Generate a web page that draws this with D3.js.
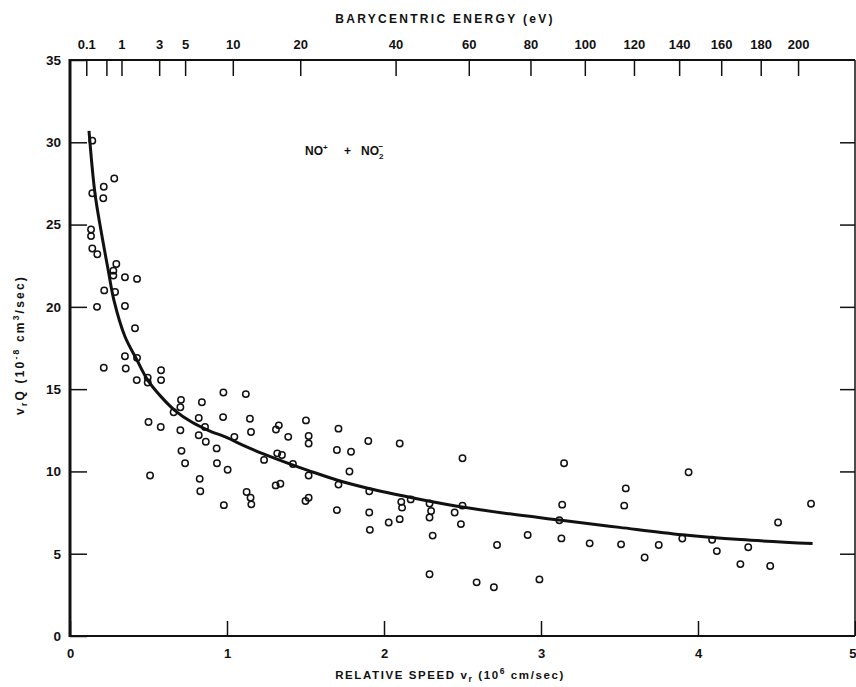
<!DOCTYPE html>
<html>
<head>
<meta charset="utf-8">
<script src="https://cdn.jsdelivr.net/npm/d3@7"></script>
<style>
  body { margin: 0; background: #fff; }
  svg text { font-family: "Liberation Sans", Arial, sans-serif; font-weight: bold; fill: #111; }
</style>
</head>
<body>
<svg id="chart" width="856" height="687"></svg>
<script>
// measured points: relative speed (10^6 cm/sec) and rate (10^-8 cm^3/sec)
let speed = [0.142, 0.282, 0.215, 0.142, 0.212, 0.134, 0.134, 0.142, 0.174, 0.295,
  0.276, 0.276, 0.35, 0.427, 0.218, 0.287, 0.172, 0.35, 0.414, 0.35,
  0.427, 0.215, 0.355, 0.58, 0.425, 0.495, 0.495, 0.58, 0.977, 1.12,
  0.707, 0.84, 0.703, 0.66, 0.82, 0.975, 1.146, 0.5, 0.578, 0.86,
  0.703, 0.82, 1.047, 1.153, 0.865, 0.934, 0.71, 0.733, 0.936, 1.004,
  0.51, 0.826, 1.503, 1.312, 1.33, 1.71, 1.39, 1.52, 1.52, 1.9,
  2.1, 1.236, 1.32, 1.35, 1.7, 1.79, 1.42, 1.52, 1.78, 0.83,
  0.98, 1.125, 1.15, 1.155, 1.31, 1.34, 1.5, 1.52, 1.71, 1.7,
  1.906, 1.906, 1.91, 2.03, 2.1, 2.11, 2.115, 2.17, 2.29, 2.3,
  2.29, 2.31, 2.29, 2.45, 2.5, 3.147, 3.94, 3.54, 3.53, 3.135,
  2.5, 2.49, 3.117, 4.72, 4.51, 2.915, 3.13, 3.31, 3.51, 3.75,
  3.9, 4.09, 4.12, 4.32, 4.27, 4.46, 2.72, 3.66, 2.59, 2.7, 2.99];
let rate = [30.1, 27.8, 27.3, 26.9, 26.6, 24.7, 24.3, 23.55, 23.2, 22.6,
  22.2, 21.9, 21.8, 21.7, 21.0, 20.9, 20.0, 20.05, 18.7, 17.0,
  16.9, 16.3, 16.25, 16.15, 15.55, 15.7, 15.4, 15.55, 14.8, 14.7,
  14.35, 14.2, 13.9, 13.6, 13.25, 13.3, 13.2, 13.0, 12.7, 12.7,
  12.5, 12.2, 12.1, 12.4, 11.8, 11.4, 11.25, 10.5, 10.5, 10.1,
  9.75, 9.55, 13.1, 12.55, 12.8, 12.6, 12.1, 12.15, 11.7, 11.85,
  11.7, 10.7, 11.1, 11.0, 11.3, 11.2, 10.45, 9.75, 10.0, 8.8,
  7.95, 8.75, 8.4, 8.0, 9.15, 9.25, 8.2, 8.4, 9.2, 7.65,
  8.8, 7.5, 6.45, 6.9, 7.1, 8.15, 7.8, 8.3, 8.05, 7.6,
  7.2, 6.1, 3.75, 7.5, 10.8, 10.5, 9.95, 8.97, 7.92, 7.98,
  7.92, 6.8, 7.03, 8.04, 6.9, 6.14, 5.93, 5.63, 5.57, 5.53,
  5.92, 5.85, 5.16, 5.39, 4.37, 4.25, 5.53, 4.77, 3.26, 2.96, 3.44];

// fitted curve
let curveSpeed = [0.121, 0.159, 0.2, 0.244, 0.28, 0.35, 0.425, 0.495, 0.584, 0.669,
  0.775, 0.88, 1.0, 1.1, 1.236, 1.416, 1.52, 1.71, 1.91, 2.18,
  2.42, 2.78, 3.117, 3.5, 3.9, 4.27, 4.73];
let curveRate = [30.7, 26.9, 24.5, 22.2, 20.4, 18.2, 16.8, 15.55, 14.5, 13.7,
  13.0, 12.5, 12.05, 11.6, 11.05, 10.4, 10.05, 9.45, 8.95, 8.4,
  7.96, 7.45, 7.05, 6.6, 6.15, 5.86, 5.62];

let speedTicks = [0, 1, 2, 3, 4, 5];
let rateTicks = [0, 5, 10, 15, 20, 25, 30, 35];
let energyTicks = [0.1, 0.5, 1, 3, 5, 10, 20, 40, 60, 80, 100, 120, 140, 160, 180, 200];
let energyLabels = ['0.1', '', '1', '3', '5', '10', '20', '40', '60', '80', '100', '120', '140', '160', '180', '200'];

const pLeft = 70, pRight = 855, pTop = 60, pBottom = 636;
const svg = d3.select('#chart');

const x = d3.scaleLinear().domain([0, 5]).range([pLeft, pRight]);
const y = d3.scaleLinear().domain([0, 35]).range([pBottom, pTop]);
// barycentric energy goes as v^2, so its axis is a sqrt scale
const e = d3.scaleSqrt().domain([0, 232.5]).range([pLeft, pRight]);

// bottom axis
svg.append('g')
  .attr('transform', `translate(0,${pBottom})`)
  .call(d3.axisBottom(x).tickValues(speedTicks).tickSize(-15).tickPadding(13).tickFormat(d3.format('d')))
  .call(g => g.select('.domain').remove())
  .call(g => g.selectAll('line').attr('stroke', '#111').attr('stroke-width', 1.5))
  .call(g => g.selectAll('text').attr('font-size', 13).attr('fill', '#111'))
  .call(g => g.selectAll('text').filter(d => d === 5).attr('text-anchor', 'end').attr('dx', 1));

// left axis
svg.append('g')
  .attr('transform', `translate(${pLeft},0)`)
  .call(d3.axisLeft(y).tickValues(rateTicks).tickSize(-17).tickPadding(9))
  .call(g => g.select('.domain').remove())
  .call(g => g.selectAll('line').attr('stroke', '#111').attr('stroke-width', 1.5))
  .call(g => g.selectAll('text').attr('font-size', 13.5).attr('fill', '#111'));

// right axis ticks
svg.append('g')
  .attr('transform', `translate(${pRight},0)`)
  .call(d3.axisRight(y).tickValues(rateTicks.slice(1, 7)).tickSize(-15).tickFormat(''))
  .call(g => g.select('.domain').remove())
  .call(g => g.selectAll('line').attr('stroke', '#111').attr('stroke-width', 1.5));

// top axis (energy)
svg.append('g')
  .attr('transform', `translate(0,${pTop})`)
  .call(d3.axisTop(e).tickValues(energyTicks).tickSize(-16).tickPadding(11)
    .tickFormat((d, i) => energyLabels[i]))
  .call(g => g.select('.domain').remove())
  .call(g => g.selectAll('line').attr('stroke', '#111').attr('stroke-width', 1.5))
  .call(g => g.selectAll('text').attr('font-size', 13).attr('fill', '#111'));

// frame
svg.append('line').attr('x1', pLeft).attr('x2', pLeft).attr('y1', pTop - 1).attr('y2', pBottom + 1)
  .attr('stroke', '#111').attr('stroke-width', 3);
svg.append('line').attr('x1', pLeft).attr('x2', pRight).attr('y1', pBottom).attr('y2', pBottom)
  .attr('stroke', '#111').attr('stroke-width', 2);
svg.append('line').attr('x1', pLeft).attr('x2', pRight).attr('y1', pTop).attr('y2', pTop)
  .attr('stroke', '#111').attr('stroke-width', 2);
svg.append('line').attr('x1', pRight).attr('x2', pRight).attr('y1', pTop).attr('y2', pBottom)
  .attr('stroke', '#111').attr('stroke-width', 1.5);

// curve
let curvePts = curveSpeed.map((d, i) => [d, curveRate[i]]);
svg.append('path')
  .datum(curvePts)
  .attr('fill', 'none')
  .attr('stroke', '#111')
  .attr('stroke-width', 3)
  .attr('d', d3.line().x(d => x(d[0])).y(d => y(d[1])).curve(d3.curveCatmullRom.alpha(0.5)));

// data points
svg.append('g')
  .selectAll('circle')
  .data(speed.map((d, i) => [d, rate[i]]))
  .join('circle')
  .attr('cx', d => x(d[0]))
  .attr('cy', d => y(d[1]))
  .attr('r', 3.2)
  .attr('fill', 'none')
  .attr('stroke', '#111')
  .attr('stroke-width', 1.5);

// titles
svg.append('text')
  .attr('x', 445).attr('y', 23)
  .attr('text-anchor', 'middle')
  .attr('font-size', 12)
  .attr('letter-spacing', 2.3)
  .text('BARYCENTRIC ENERGY (eV)');

let xt = svg.append('text')
  .attr('x', 450).attr('y', 679)
  .attr('text-anchor', 'middle')
  .attr('font-size', 11.5)
  .attr('letter-spacing', 1.6);
xt.append('tspan').text('RELATIVE SPEED v');
xt.append('tspan').attr('dy', 3).attr('font-size', 8.5).text('r');
xt.append('tspan').attr('dy', -3).text(' (10');
xt.append('tspan').attr('dy', -5).attr('font-size', 8.5).text('6');
xt.append('tspan').attr('dy', 5).text(' cm/sec)');

let yt = svg.append('text')
  .attr('transform', 'translate(24,345) rotate(-90)')
  .attr('text-anchor', 'middle')
  .attr('font-size', 12)
  .attr('letter-spacing', 2.2);
yt.append('tspan').text('v');
yt.append('tspan').attr('dy', 3).attr('font-size', 8.5).text('r');
yt.append('tspan').attr('dy', -3).text('Q (10');
yt.append('tspan').attr('dy', -5).attr('font-size', 8.5).text('-8');
yt.append('tspan').attr('dy', 5).text(' cm');
yt.append('tspan').attr('dy', -5).attr('font-size', 8.5).text('3');
yt.append('tspan').attr('dy', 5).text('/sec)');

// reaction label
let rl = svg.append('text')
  .attr('x', 305).attr('y', 155)
  .attr('font-size', 12);
rl.append('tspan').text('NO');
rl.append('tspan').attr('dy', -5).attr('font-size', 8).text('+');
rl.append('tspan').attr('x', 344).attr('dy', 5).text('+');
rl.append('tspan').attr('x', 361).text('NO');
rl.append('tspan').attr('dy', 4).attr('font-size', 8).text('2');
rl.append('tspan').attr('dy', -10).attr('dx', -5).attr('font-size', 8).text('−');
</script>
</body>
</html>
